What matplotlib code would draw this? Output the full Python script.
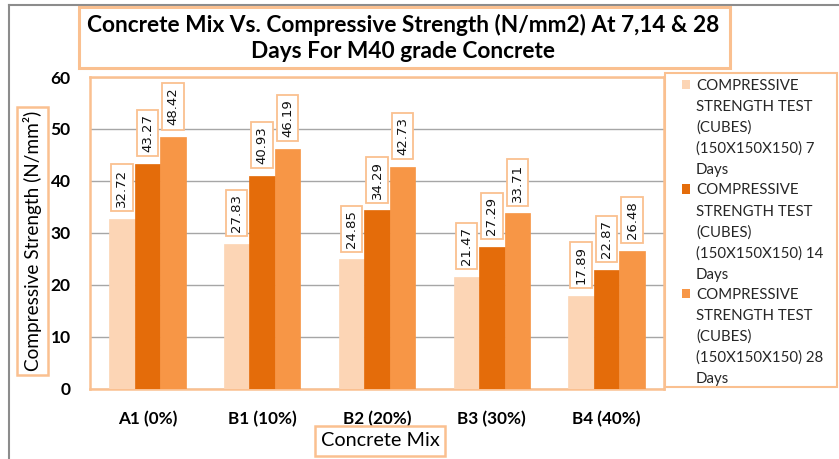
import matplotlib
matplotlib.use("Agg")
import matplotlib.pyplot as plt
import numpy as np
from matplotlib.patches import Rectangle
from matplotlib.lines import Line2D

categories = ["A1 (0%)", "B1 (10%)", "B2 (20%)", "B3 (30%)", "B4 (40%)"]
days7 = [32.72, 27.83, 24.85, 21.47, 17.89]
days14 = [43.27, 40.93, 34.29, 27.29, 22.87]
days28 = [48.42, 46.19, 42.73, 33.71, 26.48]
series_labels = [
    "COMPRESSIVE\nSTRENGTH TEST\n(CUBES)\n(150X150X150) 7\nDays",
    "COMPRESSIVE\nSTRENGTH TEST\n(CUBES)\n(150X150X150) 14\nDays",
    "COMPRESSIVE\nSTRENGTH TEST\n(CUBES)\n(150X150X150) 28\nDays",
]
title_text = "Concrete Mix Vs. Compressive Strength (N/mm2) At 7,14 & 28\nDays For M40 grade Concrete"
ylabel_text = "Compressive Strength (N/mm²)"
xlabel_text = "Concrete Mix"
yticks = [0, 10, 20, 30, 40, 50, 60]

colors = ["#FCD5B5", "#E46C0A", "#F79646"]
border = "#FAC090"
FONT = ["Lato", "DejaVu Sans"]

W, H = 839, 459
fig = plt.figure(figsize=(W / 100, H / 100), dpi=100)


def fx(px):
    return px / W


def fy(py):
    return 1 - py / H


def fig_box(x0, y0, x1, y1, lw=1.8):
    fig.add_artist(Rectangle((fx(x0), fy(y1)), fx(x1) - fx(x0), fy(y0) - fy(y1),
                             transform=fig.transFigure, fill=False,
                             edgecolor=border, linewidth=lw, zorder=5))


# outer grey frame (left and top only visible)
fig.add_artist(Line2D([fx(9), fx(9)], [fy(4.5), 0], transform=fig.transFigure,
                      color="#8C8C8C", lw=1.5))
fig.add_artist(Line2D([fx(9), 1], [fy(4.5), fy(4.5)], transform=fig.transFigure,
                      color="#8C8C8C", lw=1.5))

ax = fig.add_axes([fx(90), fy(388.5), fx(664) - fx(90), fy(77) - fy(388.5)])

x = np.arange(len(categories))
bw = 1 / 4.5
all_series = [days7, days14, days28]
for i, (vals, col) in enumerate(zip(all_series, colors)):
    pos = x + (i - 1) * bw
    ax.bar(pos, vals, width=bw, color=col, edgecolor=col, linewidth=0.5, zorder=3)
    for px_, v in zip(pos, vals):
        ax.annotate(f"{v:.2f}", (px_, v), xytext=(0, 8.5), textcoords="offset points",
                    rotation=90, ha="center", va="bottom", fontsize=9.5,
                    family="DejaVu Sans", zorder=6, color="#111111",
                    bbox=dict(boxstyle="square,pad=0.32", fc="white", ec=border, lw=1.3))

ax.set_xlim(-0.5, 4.5)
ax.set_ylim(0, 60)
ax.set_yticks(yticks)
ax.set_yticklabels([str(t) for t in yticks], fontsize=12.5, fontweight="bold", family=FONT)
ax.set_xticks(x)
ax.set_xticklabels(categories, fontsize=12.3, fontweight="bold", family=FONT)
ax.tick_params(axis="y", length=0, pad=14)
ax.tick_params(axis="x", length=0, pad=16)
ax.grid(axis="y", color="#A6A6A6", lw=1, zorder=0)
for s in ax.spines.values():
    s.set_color(border)
    s.set_linewidth(1.8)

# title
fig.text(fx(403), fy(38), title_text, ha="center", va="center", fontsize=16.3,
         fontweight="bold", family=FONT, linespacing=1.3)
fig_box(79, 7, 730, 68, lw=2.2)

# y label
fig.text(fx(32.5), fy(241), ylabel_text, ha="center", va="center", rotation=90,
         fontsize=13.7, family=FONT)
fig_box(17, 107, 48, 375)

# x label
fig.text(fx(380), fy(441), xlabel_text, ha="center", va="center", fontsize=14.3, family=FONT)
fig_box(315, 426, 445, 456)

# legend (manual, Excel style)
fig_box(665, 73, 837, 387, lw=1.5)
for i, (lab, col) in enumerate(zip(series_labels, colors)):
    y0 = 84.5 + 104.5 * i
    fig.add_artist(Rectangle((fx(682), fy(y0 + 4.5)), fx(690) - fx(682), fy(y0 - 4.5) - fy(y0 + 4.5),
                             transform=fig.transFigure, facecolor=col, edgecolor="none"))
    for j, line in enumerate(lab.split("\n")):
        fig.text(fx(696), fy(y0 + 21 * j + 5.5), line, ha="left", va="baseline",
                 fontsize=10.8, family=FONT, color="#262626")

fig.savefig("out.png", dpi=100)
